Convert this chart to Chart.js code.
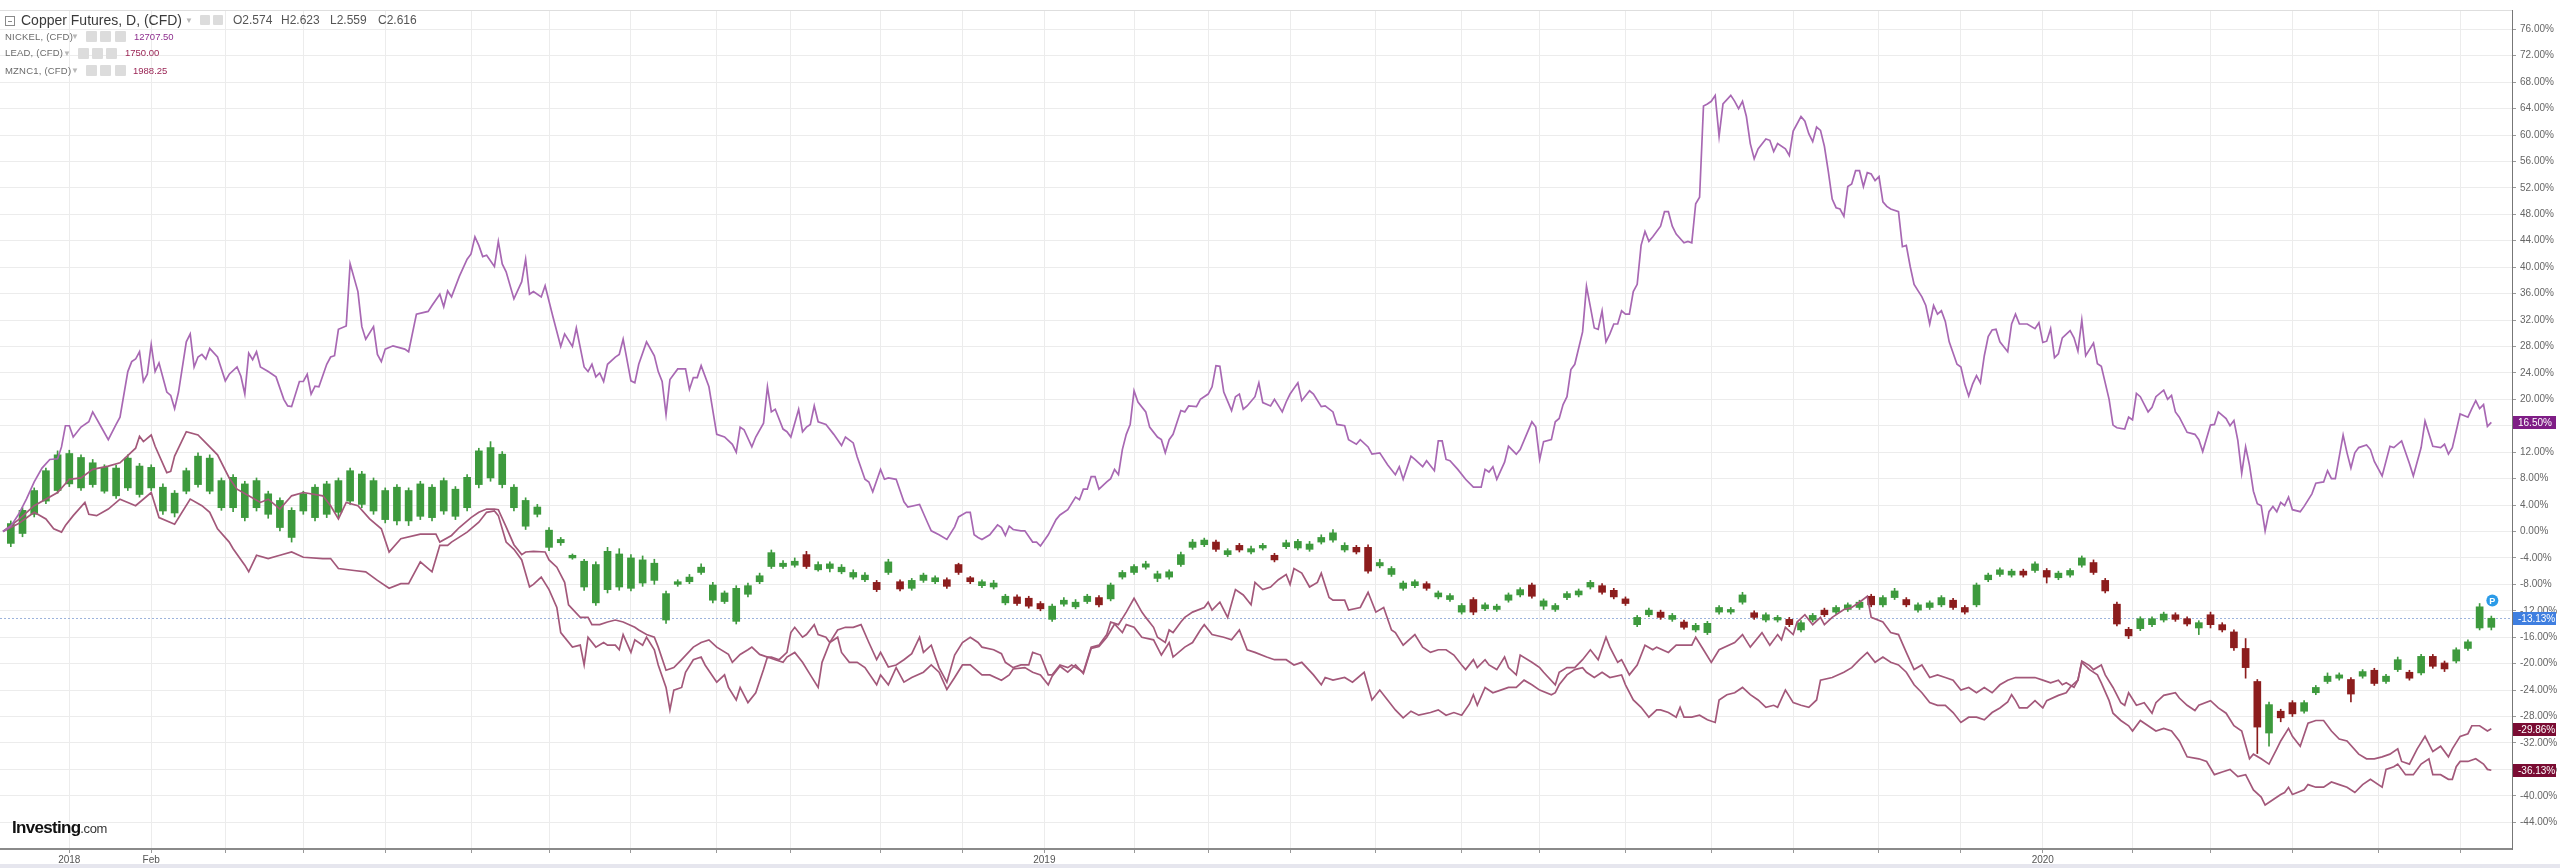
<!DOCTYPE html>
<html>
<head>
<meta charset="utf-8">
<title>Copper Futures vs Nickel, Lead, Zinc</title>
<script src="https://cdn.jsdelivr.net/npm/chart.js@4.4.1/dist/chart.umd.min.js"></script>
<style>
  html, body { margin: 0; padding: 0; background: #fff; }
  body { width: 2560px; height: 868px; overflow: hidden; position: relative; font-family: 'Liberation Sans', Arial, sans-serif; }
  #chart { position: absolute; left: 0; top: 0; }
  .t { position: absolute; white-space: nowrap; line-height: 1; }
  .title { font-size: 14px; color: #3a3a3a; }
  .ohlc { font-size: 12px; color: #555; }
  .sym { font-size: 9.5px; color: #6a6a6a; letter-spacing: 0.2px; }
  .val { font-size: 9.5px; }
  .arr { font-size: 8px; color: #b8b8b8; }
  .ic { position: absolute; width: 11px; height: 11px; background: #dcdcdc; border-radius: 1px; }
  .box { position: absolute; left: 5px; top: 16px; width: 8px; height: 8px; border: 1px solid #8a8a8a; }
  .box:after { content: ''; position: absolute; left: 2px; right: 2px; top: 4px; height: 1px; background: #8a8a8a; }
  #logo { position: absolute; left: 12px; top: 819px; white-space: nowrap; line-height: 1; font-size: 17px; }
  #logo b { color: #111; letter-spacing: -0.7px; }
  #logo span { font-size: 13px; color: #333; letter-spacing: -0.4px; }
  #foot { position: absolute; left: 0; right: 0; bottom: 0; height: 4px; background: #e6e6ee; }
</style>
</head>
<body>
<canvas id="chart" width="2560" height="868"></canvas>

<div class="box"></div>
<div class="t title" style="left:21px; top:13px">Copper Futures, D, (CFD)</div>
<div class="t arr" style="left:185px; top:17px">▼</div>
<div class="ic" style="left:200px; top:15px; width:10px; height:10px"></div>
<div class="ic" style="left:213px; top:15px; width:10px; height:10px"></div>
<div class="t ohlc" style="left:233px; top:14px">O2.574</div>
<div class="t ohlc" style="left:281px; top:14px">H2.623</div>
<div class="t ohlc" style="left:330px; top:14px">L2.559</div>
<div class="t ohlc" style="left:378px; top:14px">C2.616</div>

<div class="t sym" style="left:5px; top:31.5px">NICKEL, (CFD)</div>
<div class="t arr" style="left:71px; top:33px">▼</div>
<div class="ic" style="left:86px; top:31px"></div>
<div class="ic" style="left:100px; top:31px"></div>
<div class="ic" style="left:115px; top:31px"></div>
<div class="t val" style="left:134px; top:31.5px; color:#8e2f8e">12707.50</div>

<div class="t sym" style="left:5px; top:48px">LEAD, (CFD)</div>
<div class="t arr" style="left:63px; top:49.5px">▼</div>
<div class="ic" style="left:78px; top:48px"></div>
<div class="ic" style="left:92px; top:48px"></div>
<div class="ic" style="left:106px; top:48px"></div>
<div class="t val" style="left:125px; top:48px; color:#9a2555">1750.00</div>

<div class="t sym" style="left:5px; top:65.5px">MZNC1, (CFD)</div>
<div class="t arr" style="left:71px; top:67px">▼</div>
<div class="ic" style="left:86px; top:65px"></div>
<div class="ic" style="left:100px; top:65px"></div>
<div class="ic" style="left:115px; top:65px"></div>
<div class="t val" style="left:133px; top:65.5px; color:#9a2555">1988.25</div>

<div id="logo"><b>Investing</b><span>.com</span></div>
<div id="foot"></div>

<script>
// x values are trading-day indices counted from the first bar (mid Dec 2017)
// all values are % change from the first bar

const monthTickDays = [17, 38, 57, 77, 98, 120, 140, 161, 183, 202, 225, 246,
                       267, 290, 309, 330, 352, 374, 394, 416, 438, 459, 481, 502,
                       523, 546, 566, 587, 609, 630];
const monthTickLabels = ['2018', 'Feb', '', '', '', '', '', '', '', '', '', '',
                         '2019', '', '', '', '', '', '', '', '', '', '', '',
                         '2020', '', '', '', '', ''];
const yTickValues = [-44, -40, -36, -32, -28, -24, -20, -16, -12, -8, -4, 0, 4, 8, 12, 16,
                     20, 24, 28, 32, 36, 40, 44, 48, 52, 56, 60, 64, 68, 72, 76];

// Copper futures candles, one every 3 trading days starting on day 2
const FIRST_DAY = 2;
const STEP = 3;
const copperOpen = [
  -1.8, -0.3, 2.6, 4.6, 6.2, 7.2, 6.6, 7.1, 6.1, 5.4,
  6.6, 5.6, 6.6, 3.1, 2.8, 6.1, 7.1, 6.1, 3.6, 3.6,
  2.1, 3.6, 2.6, 0.6, -0.9, 3.1, 2.1, 2.6, 2.9, 4.6,
  4.1, 3.1, 1.8, 1.6, 1.6, 2.3, 2.1, 3.1, 2.3, 3.6,
  7.1, 8.1, 7.1, 3.6, 0.8, 2.6, -2.4, -1.7, -4.0, -8.4,
  -10.8, -8.8, -8.4, -8.6, -7.8, -7.4, -13.4, -8.0, -7.6, -6.2,
  -10.4, -10.6, -13.6, -9.5, -7.6, -5.3, -5.3, -5.1, -3.5, -5.8,
  -5.6, -6.1, -6.9, -7.3, -7.7, -6.2, -7.6, -8.6, -7.4, -7.6,
  -7.3, -5.0, -7.0, -8.2, -8.4, -10.8, -9.9, -10.1, -10.9, -13.3,
  -11.0, -11.4, -10.6, -10.0, -10.2, -6.9, -6.2, -5.4, -7.1, -6.9,
  -5.0, -2.4, -2.0, -1.6, -3.5, -2.1, -3.1, -2.5, -3.6, -2.3,
  -2.5, -2.7, -1.6, -1.3, -2.8, -2.4, -2.4, -5.2, -6.5, -8.6,
  -8.2, -7.9, -9.9, -10.3, -12.2, -10.3, -11.7, -11.8, -10.4, -9.6,
  -8.1, -11.3, -11.8, -10.0, -9.6, -8.4, -8.2, -8.9, -10.2, -14.1,
  -12.6, -12.2, -13.3, -13.7, -14.9, -15.3, -12.2, -12.2, -10.7, -12.3,
  -13.4, -13.4, -13.3, -14.9, -13.4, -11.9, -12.2, -11.8, -11.5, -9.8,
  -11.1, -10.0, -10.3, -11.9, -11.5, -11.1, -10.4, -11.5, -11.1, -7.3,
  -6.5, -6.6, -6.0, -5.9, -5.9, -7.0, -6.6, -5.1, -4.7, -7.4,
  -11.0, -14.8, -14.7, -14.1, -13.4, -12.6, -13.2, -14.6, -12.6, -14.1,
  -15.2, -17.7, -22.7, -30.5, -27.2, -25.9, -27.2, -24.4, -22.7, -22.2,
  -22.4, -21.9, -21.0, -22.7, -20.9, -21.3, -21.4, -18.9, -19.9, -19.6,
  -17.7, -14.6, -14.5
];
const copperHigh = [
  1.6, 3.6, 6.6, 9.6, 12.2, 12.3, 11.6, 10.9, 10.1, 10.0,
  11.6, 10.3, 10.1, 7.2, 6.2, 9.6, 11.9, 11.6, 8.1, 8.6,
  7.6, 8.1, 6.1, 5.1, 3.6, 6.1, 7.1, 7.6, 8.1, 9.6,
  9.1, 8.1, 6.6, 7.1, 6.6, 7.6, 7.1, 8.1, 6.8, 8.6,
  12.6, 13.6, 12.1, 7.1, 5.1, 4.1, 0.6, -0.9, -3.4, -4.2,
  -4.6, -2.4, -2.6, -3.5, -3.7, -4.2, -9.0, -7.3, -6.5, -4.9,
  -7.7, -9.0, -8.2, -7.8, -6.3, -2.8, -4.4, -4.0, -3.0, -4.6,
  -4.6, -5.0, -5.8, -6.2, -7.4, -4.2, -7.3, -7.1, -6.3, -6.7,
  -7.0, -4.8, -6.8, -7.3, -7.4, -9.5, -9.6, -9.8, -10.6, -11.0,
  -10.0, -10.3, -9.5, -9.7, -7.8, -5.9, -5.0, -4.5, -6.0, -5.8,
  -3.1, -1.2, -1.0, -1.3, -2.6, -1.8, -2.2, -1.8, -3.3, -1.3,
  -1.2, -1.5, -0.5, 0.3, -1.7, -2.1, -2.0, -4.2, -5.3, -7.5,
  -7.3, -7.6, -9.0, -9.4, -10.9, -10.0, -10.8, -11.0, -9.3, -8.5,
  -7.8, -10.2, -10.9, -9.1, -8.7, -7.4, -7.9, -8.6, -9.9, -12.7,
  -11.6, -11.9, -12.4, -13.4, -13.9, -13.6, -11.2, -11.5, -9.2, -12.0,
  -12.3, -12.7, -13.0, -13.5, -12.4, -11.6, -11.2, -10.8, -10.4, -9.5,
  -9.7, -8.6, -10.0, -10.8, -10.5, -9.7, -10.1, -11.2, -7.8, -6.3,
  -5.5, -5.7, -5.7, -4.6, -5.6, -6.0, -5.6, -3.7, -4.3, -7.1,
  -10.7, -14.5, -12.9, -12.9, -12.2, -12.3, -12.9, -13.5, -12.2, -13.8,
  -14.9, -16.2, -22.4, -25.8, -26.9, -25.6, -25.6, -23.3, -21.4, -21.4,
  -22.1, -20.9, -20.7, -21.6, -19.0, -21.0, -18.6, -18.6, -19.6, -17.6,
  -16.4, -10.9, -12.8
];
const copperLow = [
  -2.3, -0.8, 2.2, 4.2, 5.8, 6.8, 6.2, 6.7, 5.8, 5.0,
  6.2, 5.2, 6.2, 2.6, 2.2, 5.7, 6.7, 5.7, 3.2, 3.0,
  1.6, 3.1, 2.0, 0.0, -1.6, 2.6, 1.6, 2.1, 2.2, 4.1,
  3.6, 2.6, 1.3, 1.0, 0.9, 1.8, 1.6, 2.6, 1.8, 3.1,
  6.6, 7.6, 6.6, 3.1, 0.3, 2.2, -2.9, -2.1, -4.2, -8.9,
  -11.2, -9.3, -8.9, -9.0, -8.3, -8.0, -13.9, -8.3, -7.9, -6.5,
  -10.8, -10.9, -14.0, -9.9, -7.9, -5.6, -5.6, -5.4, -5.6, -6.0,
  -6.1, -6.4, -7.2, -7.6, -9.1, -6.5, -9.0, -8.9, -7.7, -7.9,
  -8.6, -6.5, -7.9, -8.5, -8.7, -11.1, -11.2, -11.6, -12.0, -13.6,
  -11.3, -11.7, -10.9, -11.4, -10.5, -7.2, -6.5, -5.7, -7.6, -7.2,
  -5.3, -2.7, -2.3, -3.0, -3.8, -3.1, -3.4, -2.8, -4.6, -2.6,
  -2.8, -3.0, -1.9, -1.6, -3.1, -3.4, -6.3, -5.5, -6.8, -8.9,
  -8.5, -8.9, -10.2, -10.6, -12.5, -12.6, -12.0, -12.1, -10.7, -9.9,
  -10.1, -11.8, -12.1, -10.3, -9.9, -8.7, -9.5, -10.2, -11.2, -14.4,
  -12.9, -13.3, -13.6, -14.8, -15.2, -15.6, -12.5, -12.5, -11.0, -13.3,
  -13.7, -13.7, -14.4, -15.2, -13.7, -12.9, -12.5, -12.1, -11.8, -11.4,
  -11.4, -10.3, -11.4, -12.2, -11.8, -11.4, -11.8, -12.5, -11.4, -7.6,
  -6.8, -6.9, -6.9, -6.2, -7.8, -7.3, -6.9, -5.4, -6.5, -9.3,
  -14.3, -16.2, -15.0, -14.4, -13.7, -13.6, -14.3, -15.6, -14.6, -15.2,
  -18.0, -22.2, -33.6, -32.5, -28.8, -28.0, -27.5, -24.7, -23.0, -22.5,
  -25.8, -22.2, -23.3, -23.0, -21.2, -22.5, -21.7, -20.7, -21.2, -19.9,
  -18.0, -14.9, -14.9
];
const copperClose = [
  1.2, 3.2, 6.2, 9.2, 11.6, 11.8, 11.2, 10.4, 9.7, 9.6,
  11.1, 9.9, 9.7, 6.7, 5.8, 9.2, 11.4, 11.1, 7.7, 8.2,
  7.2, 7.7, 5.7, 4.7, 3.2, 5.7, 6.7, 7.2, 7.7, 9.2,
  8.7, 7.7, 6.2, 6.7, 6.2, 7.2, 6.7, 7.7, 6.4, 8.2,
  12.2, 12.7, 11.7, 6.7, 4.7, 3.7, 0.2, -1.2, -3.6, -4.5,
  -5.0, -3.0, -3.4, -4.0, -4.3, -4.8, -9.4, -7.6, -6.9, -5.4,
  -8.1, -9.3, -8.6, -8.2, -6.7, -3.2, -4.8, -4.5, -5.3, -5.0,
  -4.9, -5.4, -6.2, -6.6, -8.8, -4.6, -8.7, -7.4, -6.6, -7.0,
  -8.3, -6.2, -7.6, -7.6, -7.8, -9.8, -10.9, -11.3, -11.7, -11.3,
  -10.4, -10.7, -9.8, -11.1, -8.1, -6.2, -5.3, -4.9, -6.4, -6.1,
  -3.5, -1.6, -1.3, -2.7, -2.9, -2.8, -2.6, -2.1, -4.3, -1.7,
  -1.5, -1.9, -0.9, -0.2, -2.1, -3.1, -6.0, -4.7, -5.6, -7.8,
  -7.6, -8.6, -9.3, -9.7, -11.2, -12.2, -11.1, -11.3, -9.6, -8.8,
  -9.8, -10.5, -11.2, -9.4, -9.0, -7.7, -9.2, -9.9, -10.9, -13.0,
  -11.9, -13.0, -12.7, -14.5, -14.2, -13.9, -11.5, -11.8, -9.6, -13.0,
  -12.6, -13.0, -14.1, -13.8, -12.7, -12.6, -11.5, -11.1, -10.7, -11.1,
  -10.0, -9.0, -11.1, -11.1, -10.8, -10.0, -11.5, -12.2, -8.1, -6.6,
  -5.8, -6.0, -6.6, -4.9, -6.9, -6.3, -5.9, -4.0, -6.2, -9.0,
  -14.0, -15.8, -13.2, -13.2, -12.5, -13.3, -14.0, -13.8, -14.1, -14.9,
  -17.6, -20.6, -29.6, -26.2, -28.2, -27.6, -25.9, -23.6, -21.9, -21.7,
  -24.6, -21.2, -23.0, -21.9, -19.4, -22.2, -18.9, -20.4, -20.8, -17.9,
  -16.7, -11.4, -13.13
];

// [trading day, % change]
const nickel = [
  [0,0],[2,0.8],[4,2.6],[6,4.9],[8,7.5],[10,9.6],[12,10.9],[14,11.0],[15,12.8],[16,16.0],
  [17,16.0],[18,14.3],[20,15.8],[22,16.6],[23,18.1],[25,16.0],[27,13.9],[29,16.2],[30,17.3],[32,24.2],
  [33,25.7],[34,26.1],[35,27.2],[36,22.7],[37,23.8],[38,28.3],[39,24.2],[40,25.5],[42,21.1],[43,20.6],
  [44,18.6],[45,21.1],[47,28.7],[48,29.9],[49,24.9],[50,26.4],[51,26.8],[52,26.1],[53,27.7],[55,26.4],
  [57,22.8],[58,23.8],[60,24.9],[61,23.5],[62,20.8],[63,27.0],[64,26.0],[65,27.2],[66,24.9],[68,24.2],
  [70,23.4],[72,20.0],[73,19.0],[74,18.9],[76,22.7],[77,22.7],[78,23.8],[79,20.8],[80,22.0],[81,21.9],
  [83,25.3],[84,26.4],[85,26.6],[86,30.6],[88,31.1],[89,40.5],[91,36.3],[92,31.0],[93,29.1],[95,31.0],
  [96,26.8],[97,25.7],[98,27.6],[100,28.1],[103,27.6],[104,27.2],[106,32.9],[109,33.3],[110,34.2],[112,35.9],
  [113,34.0],[114,36.4],[115,35.5],[117,38.6],[119,41.2],[120,42.0],[121,44.6],[122,43.3],[123,41.6],[124,41.8],
  [126,40.1],[127,43.9],[128,40.5],[129,39.3],[131,35.2],[133,37.8],[134,41.2],[135,35.9],[136,36.3],[138,35.5],
  [139,37.2],[141,32.5],[143,28.0],[144,29.9],[146,28.0],[147,30.8],[149,24.9],[150,24.2],[151,25.3],[152,23.4],
  [153,24.0],[154,22.7],[155,25.3],[157,26.4],[158,26.8],[159,29.1],[161,22.8],[162,22.5],[163,25.3],[165,28.7],
  [167,26.6],[168,24.2],[169,22.7],[170,17.7],[171,23.0],[173,24.6],[175,24.6],[176,21.5],[177,23.3],[178,23.3],
  [179,25.1],[181,21.9],[183,14.7],[185,14.3],[187,13.2],[188,12.0],[189,15.8],[190,15.4],[192,12.8],[193,14.3],
  [195,16.4],[196,21.9],[197,18.1],[198,18.5],[200,15.5],[201,15.1],[202,14.3],[204,18.5],[205,15.1],[206,15.8],
  [207,16.2],[208,19.0],[209,16.6],[211,16.2],[213,14.7],[215,13.0],[216,14.3],[218,13.4],[219,11.3],[221,7.9],
  [222,7.5],[223,6.0],[225,9.4],[226,7.9],[227,8.1],[229,7.9],[231,4.5],[232,3.7],[235,4.1],[237,1.4],
  [238,0.1],[240,-0.5],[242,-1.2],[244,0.7],[245,2.2],[247,2.9],[248,2.9],[249,-0.5],[250,-0.9],[251,-1.2],
  [253,-0.5],[255,1.0],[256,0.6],[257,-0.6],[258,0.8],[259,0.3],[261,0.1],[262,0.1],[264,-1.6],[265,-1.6],
  [266,-2.2],[268,-0.5],[270,1.8],[271,2.5],[273,3.3],[275,5.2],[276,4.8],[277,6.4],[278,6.4],[279,8.3],
  [280,8.3],[281,6.4],[283,7.5],[284,8.0],[285,9.4],[286,8.6],[287,12.4],[288,14.7],[289,16.2],[290,21.3],
  [291,19.6],[293,18.1],[294,15.8],[296,14.3],[297,13.9],[298,11.9],[299,13.9],[300,14.7],[302,18.3],[303,18.1],
  [304,19.0],[306,18.9],[307,20.0],[309,20.8],[310,21.9],[311,25.1],[312,25.0],[313,21.1],[315,18.3],[316,20.4],
  [317,20.8],[318,18.5],[319,19.0],[321,20.4],[322,22.5],[323,19.5],[325,19.0],[326,20.0],[328,18.1],[329,19.6],
  [330,20.8],[332,22.5],[333,19.8],[335,21.3],[336,20.8],[338,18.9],[339,19.0],[341,18.1],[342,16.2],[344,16.0],
  [345,13.9],[347,13.2],[348,13.9],[350,12.8],[351,11.7],[353,11.9],[355,10.1],[357,8.6],[358,9.8],[359,7.9],
  [361,11.4],[362,10.9],[364,9.8],[365,10.7],[367,9.2],[368,13.7],[369,13.7],[370,10.9],[371,10.7],[373,9.4],
  [375,7.9],[377,6.7],[379,6.7],[380,9.4],[381,9.0],[382,9.8],[383,7.9],[385,10.5],[386,12.9],[388,11.7],
  [389,12.4],[392,16.6],[393,15.8],[394,10.9],[395,13.6],[397,13.9],[398,16.6],[399,17.1],[400,19.2],[401,20.4],
  [402,24.5],[403,25.3],[405,30.2],[406,37.1],[407,34.0],[408,30.8],[409,30.6],[410,33.4],[411,28.7],[412,29.9],
  [413,31.4],[414,31.4],[415,33.4],[416,32.9],[417,32.9],[418,36.3],[419,37.4],[420,43.3],[421,45.4],[422,43.9],
  [423,44.6],[425,46.2],[426,48.4],[427,48.4],[428,46.2],[429,45.0],[431,43.7],[432,43.9],[433,43.7],[434,49.6],
  [435,50.6],[436,64.4],[437,64.7],[438,65.1],[439,66.0],[440,59.8],[441,64.7],[443,66.0],[444,65.1],[445,64.0],
  [446,65.1],[447,62.8],[448,58.7],[449,56.4],[450,57.9],[452,59.4],[453,59.2],[454,57.5],[455,58.7],[457,57.9],
  [458,56.9],[459,60.6],[461,62.8],[462,62.1],[463,60.2],[464,59.0],[465,61.2],[466,60.7],[467,58.3],[468,54.5],
  [469,50.3],[470,49.0],[471,48.8],[472,47.7],[473,52.2],[474,52.6],[475,54.6],[476,54.6],[477,52.2],[478,54.3],
  [479,54.1],[480,53.1],[481,53.7],[482,49.9],[483,49.2],[484,48.8],[486,48.4],[487,43.1],[488,43.3],[489,40.1],
  [490,37.4],[492,35.5],[493,34.2],[494,31.4],[495,34.2],[496,32.9],[497,33.4],[498,31.8],[499,28.7],[501,25.3],
  [502,24.9],[503,22.3],[504,20.5],[505,22.3],[506,23.6],[507,22.5],[508,26.6],[509,29.5],[510,30.5],[511,30.6],
  [512,28.7],[514,27.2],[515,31.4],[516,32.9],[517,31.4],[519,31.4],[521,30.7],[522,31.6],[523,28.6],[524,28.8],
  [525,30.7],[526,26.3],[527,26.9],[528,29.3],[530,30.4],[531,29.3],[532,27.3],[533,32.0],[534,26.6],[536,28.5],
  [537,25.4],[538,25.0],[540,20.0],[541,16.1],[542,15.7],[544,15.5],[545,17.3],[546,16.9],[547,20.9],[548,20.4],
  [550,18.1],[551,18.8],[552,20.4],[554,21.4],[555,20.0],[556,20.6],[557,18.1],[558,17.3],[560,15.0],[562,14.7],
  [563,13.9],[564,12.1],[566,16.1],[567,16.2],[568,18.1],[570,17.1],[571,16.0],[572,16.8],[573,13.8],[574,8.8],
  [575,12.8],[576,10.0],[577,6.1],[578,4.2],[579,3.9],[580,0.1],[581,3.0],[582,3.8],[583,3.0],[584,4.4],
  [585,3.9],[586,5.2],[587,3.3],[589,3.0],[590,3.8],[592,5.7],[593,7.3],[595,7.5],[596,9.2],[597,8.0],
  [598,8.0],[600,14.6],[601,11.9],[602,9.6],[603,11.9],[604,12.7],[606,13.1],[607,12.4],[608,10.6],[610,8.4],
  [612,12.9],[613,12.7],[615,13.7],[616,12.0],[617,10.3],[618,8.4],[620,12.7],[621,16.7],[623,12.9],[625,12.7],
  [626,13.2],[627,11.7],[628,12.7],[629,15.2],[630,17.8],[632,17.3],[633,18.6],[634,19.8],[635,18.6],[636,19.2],
  [637,15.9],[638,16.5]
];

const lead = [
  [0,0],[4,1.8],[8,3.9],[14,5.9],[17,7.9],[20,8.1],[23,9.4],[27,9.9],[30,10.4],[34,12.6],
  [35,14.4],[36,13.6],[38,14.6],[39,12.9],[42,8.9],[43,9.1],[44,11.4],[47,15.1],[50,14.6],[52,13.4],
  [55,11.6],[58,8.1],[60,6.4],[63,5.4],[66,4.4],[68,4.9],[71,3.4],[74,5.4],[77,5.9],[82,5.4],
  [84,3.9],[86,1.9],[88,4.4],[91,3.9],[94,1.9],[97,0.4],[99,-3.1],[102,-1.1],[107,-0.4],[111,-0.4],
  [112,-1.6],[115,-0.6],[117,0.6],[120,2.1],[122,2.9],[124,3.4],[126,3.4],[127,3.3],[129,0.7],[131,-2.0],
  [133,-3.5],[134,-3.1],[136,-3.0],[139,-3.1],[140,-4.3],[142,-5.4],[144,-7.7],[145,-11.1],[148,-13.0],[150,-13.0],
  [151,-14.1],[153,-14.1],[155,-13.7],[157,-13.4],[159,-13.7],[162,-14.5],[163,-14.9],[165,-15.6],[167,-16.0],[168,-17.5],
  [170,-21.0],[172,-20.6],[174,-19.4],[177,-17.5],[179,-16.8],[181,-16.4],[183,-17.5],[186,-18.6],[187,-19.8],[189,-18.6],
  [191,-17.9],[192,-17.5],[194,-18.6],[196,-19.0],[197,-19.0],[199,-19.4],[201,-18.3],[202,-15.3],[203,-14.5],[205,-16.0],
  [206,-15.6],[208,-14.1],[209,-15.6],[211,-16.0],[212,-16.8],[214,-14.9],[216,-14.5],[218,-14.5],[220,-14.1],[222,-16.8],
  [224,-19.4],[225,-18.3],[227,-20.5],[229,-20.2],[231,-19.4],[233,-18.5],[235,-16.0],[236,-18.3],[238,-17.2],[240,-20.6],
  [242,-22.8],[244,-18.7],[246,-16.8],[248,-16.0],[250,-16.8],[251,-17.5],[254,-17.9],[256,-18.5],[257,-19.8],[259,-20.6],
  [261,-20.2],[263,-20.2],[264,-18.3],[266,-18.7],[268,-21.7],[269,-21.7],[271,-20.2],[273,-20.6],[274,-20.2],[277,-21.3],
  [279,-17.5],[281,-17.2],[283,-15.6],[284,-13.7],[286,-14.1],[288,-12.2],[290,-10.1],[292,-12.2],[293,-13.0],[295,-14.5],
  [296,-16.0],[298,-16.8],[299,-14.9],[300,-15.3],[302,-13.7],[303,-13.0],[305,-12.2],[308,-11.5],[309,-10.7],[310,-11.9],
  [312,-10.7],[314,-13.0],[316,-8.8],[318,-9.6],[320,-11.1],[321,-7.7],[323,-8.8],[325,-8.4],[327,-7.3],[329,-6.5],
  [330,-8.0],[331,-5.6],[333,-6.3],[335,-8.4],[337,-7.7],[338,-6.3],[340,-10.0],[341,-10.4],[344,-10.4],[345,-11.9],
  [348,-11.5],[350,-9.2],[352,-12.2],[354,-11.5],[356,-14.9],[357,-15.3],[359,-17.2],[362,-15.6],[364,-17.5],[366,-18.3],
  [368,-17.9],[370,-17.9],[372,-18.7],[374,-20.2],[375,-20.9],[377,-19.4],[378,-20.6],[380,-19.4],[381,-20.2],[383,-20.9],
  [385,-19.0],[386,-20.6],[388,-21.7],[389,-18.7],[392,-19.8],[394,-20.6],[395,-21.3],[398,-23.2],[399,-21.3],[401,-20.6],
  [403,-20.6],[405,-19.4],[407,-17.9],[409,-19.4],[411,-16.0],[412,-17.5],[414,-19.8],[415,-19.4],[417,-21.7],[419,-20.2],
  [421,-17.2],[423,-17.9],[424,-17.5],[427,-18.3],[429,-17.2],[433,-17.2],[434,-16.0],[436,-17.9],[438,-19.8],[440,-17.9],
  [444,-16.8],[446,-15.6],[448,-17.5],[451,-15.3],[453,-17.2],[455,-15.6],[456,-16.4],[457,-14.5],[459,-15.6],[460,-13.7],
  [462,-12.6],[464,-14.1],[466,-13.0],[467,-14.1],[469,-13.0],[472,-11.8],[474,-11.5],[476,-10.7],[478,-9.8],[479,-13.0],
  [482,-13.7],[484,-15.3],[486,-15.6],[488,-18.3],[490,-20.9],[492,-20.2],[494,-22.1],[496,-21.7],[498,-22.1],[500,-22.5],
  [502,-24.0],[504,-23.6],[506,-24.4],[508,-23.6],[510,-24.4],[512,-23.2],[514,-22.5],[516,-22.1],[518,-22.1],[521,-22.1],
  [523,-22.5],[525,-22.9],[527,-22.5],[528,-23.2],[529,-22.9],[531,-23.6],[532,-22.5],[533,-19.6],[535,-20.3],[536,-20.9],
  [538,-20.2],[539,-21.7],[541,-23.6],[543,-25.9],[544,-26.3],[545,-24.4],[547,-26.3],[549,-25.9],[551,-27.5],[552,-25.9],
  [554,-24.8],[557,-24.4],[558,-25.2],[560,-26.3],[562,-27.1],[563,-26.3],[566,-25.6],[568,-26.7],[570,-27.5],[572,-29.4],
  [574,-30.2],[576,-34.4],[577,-33.7],[579,-34.4],[581,-35.2],[583,-32.9],[584,-31.7],[586,-29.8],[587,-31.0],[589,-32.5],
  [591,-29.0],[593,-28.6],[595,-28.6],[597,-30.2],[599,-31.4],[601,-31.7],[604,-33.7],[606,-34.4],[608,-34.4],[610,-34.1],
  [612,-33.7],[614,-32.9],[615,-34.8],[617,-35.2],[619,-32.9],[621,-31.0],[623,-33.3],[625,-32.5],[627,-34.1],[628,-32.9],
  [630,-31.0],[632,-30.6],[633,-29.4],[635,-29.4],[637,-30.2],[638,-29.86]
];

const zinc = [
  [0,0],[4,1.2],[8,2.9],[11,1.9],[13,0.4],[15,-0.1],[16,0.9],[18,2.4],[21,4.4],[22,2.6],
  [24,2.4],[27,3.4],[30,4.9],[32,4.4],[34,3.9],[38,5.9],[40,2.1],[44,1.1],[48,4.9],[51,3.9],
  [53,2.9],[55,0.4],[58,-1.6],[59,-2.6],[62,-5.1],[63,-6.1],[65,-3.6],[68,-4.1],[71,-3.6],[74,-3.1],
  [77,-3.9],[82,-4.1],[84,-4.1],[86,-5.6],[90,-5.9],[93,-6.1],[96,-7.4],[99,-8.6],[102,-7.9],[104,-7.9],
  [107,-4.6],[110,-6.1],[112,-2.1],[114,-2.1],[115,-1.6],[119,-0.1],[122,1.4],[124,2.9],[126,3.1],[127,2.4],
  [129,-1.6],[131,-2.7],[133,-4.3],[135,-8.4],[136,-8.0],[138,-6.9],[140,-8.8],[142,-11.5],[143,-15.3],[146,-17.5],
  [148,-17.2],[149,-20.2],[150,-16.0],[152,-17.5],[154,-16.8],[155,-17.2],[157,-17.2],[158,-17.9],[159,-15.6],[161,-18.3],
  [162,-16.4],[164,-17.2],[165,-16.0],[167,-17.9],[168,-20.2],[170,-23.6],[171,-27.0],[172,-24.0],[174,-23.6],[175,-21.3],
  [177,-19.4],[179,-19.0],[180,-20.2],[183,-22.8],[185,-21.7],[186,-23.6],[188,-25.5],[189,-23.6],[191,-25.9],[193,-24.4],
  [195,-20.9],[196,-19.0],[198,-19.4],[200,-19.8],[201,-19.0],[203,-18.3],[205,-19.8],[207,-21.7],[209,-23.6],[210,-19.8],
  [212,-16.8],[214,-16.0],[215,-18.3],[217,-19.8],[219,-19.8],[221,-20.6],[224,-23.2],[225,-21.7],[227,-23.2],[229,-20.6],
  [231,-22.8],[233,-22.1],[236,-21.3],[238,-20.2],[240,-21.3],[242,-23.9],[244,-22.1],[246,-20.2],[248,-20.2],[251,-21.7],
  [253,-21.7],[256,-22.5],[258,-21.7],[259,-20.8],[262,-20.6],[264,-21.3],[266,-21.7],[268,-23.2],[269,-21.9],[271,-20.4],
  [273,-21.3],[275,-20.2],[277,-21.5],[279,-17.7],[281,-17.4],[283,-16.0],[285,-14.0],[287,-15.3],[288,-14.1],[290,-14.5],
  [292,-16.0],[295,-16.4],[297,-18.7],[299,-16.8],[300,-19.0],[303,-17.5],[305,-16.8],[307,-14.9],[308,-14.1],[310,-15.6],
  [313,-16.0],[315,-16.4],[317,-14.9],[319,-17.9],[321,-18.3],[324,-19.0],[326,-19.4],[329,-19.4],[331,-20.2],[333,-19.8],
  [336,-21.7],[338,-23.2],[339,-22.1],[341,-22.5],[344,-22.1],[346,-22.8],[349,-21.3],[351,-25.5],[353,-24.0],[355,-25.5],
  [357,-27.0],[359,-28.2],[361,-27.2],[363,-27.8],[366,-27.4],[368,-27.0],[370,-27.8],[372,-27.4],[374,-27.8],[376,-26.1],
  [377,-24.7],[378,-26.3],[380,-23.6],[382,-24.4],[384,-24.0],[386,-23.6],[388,-23.6],[390,-22.5],[392,-23.2],[394,-24.0],
  [397,-24.7],[398,-24.4],[399,-23.2],[401,-21.7],[403,-20.9],[405,-20.6],[406,-21.3],[408,-22.1],[410,-21.3],[412,-22.1],
  [415,-21.7],[416,-23.2],[418,-25.5],[420,-26.6],[422,-28.1],[424,-27.0],[425,-27.0],[427,-27.4],[429,-28.1],[430,-26.6],
  [431,-28.1],[433,-28.1],[435,-27.8],[437,-28.5],[439,-28.9],[440,-25.5],[442,-24.7],[444,-24.4],[446,-23.6],[448,-24.7],
  [450,-25.5],[452,-26.6],[454,-26.3],[455,-26.6],[457,-24.0],[459,-25.9],[461,-26.3],[463,-26.6],[465,-25.5],[466,-22.5],
  [469,-22.1],[472,-21.3],[474,-20.6],[476,-19.4],[478,-18.3],[480,-19.8],[482,-19.0],[484,-19.8],[486,-20.2],[488,-21.3],
  [490,-23.2],[492,-24.4],[494,-25.9],[496,-26.3],[498,-26.3],[500,-27.4],[502,-28.9],[504,-28.1],[506,-28.1],[508,-28.5],
  [510,-27.4],[512,-26.7],[514,-25.8],[515,-24.7],[516,-25.6],[517,-26.7],[519,-26.7],[521,-25.6],[523,-26.7],[524,-25.6],
  [527,-24.8],[529,-24.4],[530,-23.6],[532,-22.5],[533,-19.8],[535,-20.9],[537,-21.7],[538,-22.9],[540,-25.6],[541,-27.5],
  [543,-28.6],[545,-29.4],[546,-30.2],[548,-28.6],[550,-29.4],[552,-30.2],[554,-29.8],[556,-30.2],[558,-31.7],[560,-34.1],
  [563,-34.4],[565,-34.8],[567,-36.8],[569,-36.4],[571,-36.0],[573,-37.1],[575,-36.8],[577,-39.1],[579,-40.2],[580,-41.4],
  [582,-40.6],[584,-39.8],[585,-39.5],[586,-38.7],[587,-39.8],[590,-39.1],[591,-38.3],[593,-38.7],[595,-38.7],[597,-37.9],
  [599,-38.3],[601,-38.7],[603,-39.5],[605,-38.3],[607,-37.5],[610,-38.7],[611,-36.0],[613,-35.6],[614,-35.2],[616,-36.8],
  [618,-36.8],[620,-35.2],[622,-34.4],[623,-36.8],[625,-36.8],[627,-37.5],[628,-37.5],[629,-35.6],[630,-34.8],[632,-34.8],
  [634,-34.4],[636,-35.2],[637,-36.0],[638,-36.13]
];

const FONT = '"Liberation Sans", Arial, sans-serif';
const GREEN = '#3d9a3d';
const RED = '#8c1d1d';

const candleDays = copperOpen.map((_, i) => FIRST_DAY + i * STEP);
const candleColors = copperOpen.map((o, i) => copperClose[i] >= o ? GREEN : RED);
const lastClose = copperClose[copperClose.length - 1];
const lastOf = series => series[series.length - 1][1];
const toPoints = series => series.map(p => ({ x: p[0], y: p[1] }));

const overlay = {
  id: 'overlay',
  beforeDatasetsDraw(chart) {
    const { ctx, chartArea: a, scales: { y } } = chart;
    const yy = Math.round(y.getPixelForValue(lastClose)) + 0.5;
    ctx.save();
    ctx.strokeStyle = '#9db4dc';
    ctx.lineWidth = 1;
    ctx.setLineDash([2, 2]);
    ctx.beginPath();
    ctx.moveTo(a.left, yy);
    ctx.lineTo(a.right, yy);
    ctx.stroke();
    ctx.restore();
  },
  afterDraw(chart) {
    const { ctx, chartArea: a, scales: { x, y } } = chart;
    ctx.save();
    ctx.strokeStyle = '#dedede';
    ctx.lineWidth = 1;
    ctx.beginPath();
    ctx.moveTo(0, a.top + 0.5);
    ctx.lineTo(a.right, a.top + 0.5);
    ctx.stroke();

    const tags = [
      [lastOf(nickel), '#7f1d86'],
      [lastClose, '#3f7fe0'],
      [lastOf(lead), '#7a0c33'],
      [lastOf(zinc), '#7a0c33']
    ];
    ctx.font = '10px ' + FONT;
    ctx.textBaseline = 'middle';
    ctx.textAlign = 'left';
    tags.forEach(([v, c]) => {
      const yy = Math.round(y.getPixelForValue(v));
      ctx.fillStyle = c;
      ctx.fillRect(a.right + 1, yy - 6, 43, 13);
      ctx.fillStyle = '#fff';
      ctx.fillText(v.toFixed(2) + '%', a.right + 6, yy + 1);
    });

    // "P" marker over the last bars
    const n = candleDays.length;
    const px = x.getPixelForValue(candleDays[n - 1]) + 1;
    const py = y.getPixelForValue(Math.max(copperHigh[n - 1], copperHigh[n - 2])) - 3;
    ctx.fillStyle = '#2b9be8';
    ctx.beginPath();
    ctx.arc(px, py, 6, 0, Math.PI * 2);
    ctx.fill();
    ctx.fillStyle = '#fff';
    ctx.font = 'bold 9px ' + FONT;
    ctx.textAlign = 'center';
    ctx.fillText('P', px, py + 1);
    ctx.restore();
  }
};

new Chart(document.getElementById('chart'), {
  type: 'bar',
  data: {
    datasets: [
      {
        type: 'line', label: 'NICKEL', data: toPoints(nickel),
        borderColor: '#a868b3', borderWidth: 1.7, pointRadius: 0, tension: 0, order: 1
      },
      {
        type: 'line', label: 'LEAD', data: toPoints(lead),
        borderColor: '#a3587a', borderWidth: 1.7, pointRadius: 0, tension: 0, order: 1
      },
      {
        type: 'line', label: 'MZNC1', data: toPoints(zinc),
        borderColor: '#a3587a', borderWidth: 1.7, pointRadius: 0, tension: 0, order: 1
      },
      {
        label: 'wick',
        data: candleDays.map((d, i) => ({ x: d, y: [copperLow[i], copperHigh[i]] })),
        backgroundColor: candleColors, barThickness: 1, grouped: false, order: 3
      },
      {
        label: 'Copper Futures',
        data: candleDays.map((d, i) => ({ x: d, y: [copperOpen[i], copperClose[i]] })),
        backgroundColor: candleColors, barThickness: 7, minBarLength: 1, grouped: false, order: 2
      }
    ]
  },
  options: {
    responsive: false,
    animation: false,
    devicePixelRatio: 1,
    layout: { padding: { top: 3, left: 0, right: 0, bottom: 0 } },
    plugins: { legend: { display: false }, tooltip: { enabled: false } },
    scales: {
      x: {
        type: 'linear',
        offset: false,
        min: -0.77,
        max: 643.3,
        afterBuildTicks: s => { s.ticks = monthTickDays.map(v => ({ value: v })); },
        afterFit: s => { s.height = 19; },
        ticks: {
          autoSkip: false, maxRotation: 0, padding: 1, color: '#555',
          font: { family: FONT, size: 10 },
          callback: (v, i) => monthTickLabels[i]
        },
        grid: { offset: false, color: '#ececec', tickLength: 4, tickColor: '#999' },
        border: { color: '#8a8a8a', width: 2 }
      },
      y: {
        position: 'right',
        beginAtZero: false,
        min: -48.05,
        max: 78.92,
        afterBuildTicks: s => { s.ticks = yTickValues.map(v => ({ value: v })); },
        afterFit: s => { s.width = 48; },
        ticks: {
          padding: 4, color: '#666',
          font: { family: FONT, size: 10 },
          callback: v => v.toFixed(2) + '%'
        },
        grid: { color: '#ececec', tickLength: 4, tickColor: '#999' },
        border: { color: '#777', width: 1 }
      }
    }
  },
  plugins: [overlay]
});
</script>
</body>
</html>
